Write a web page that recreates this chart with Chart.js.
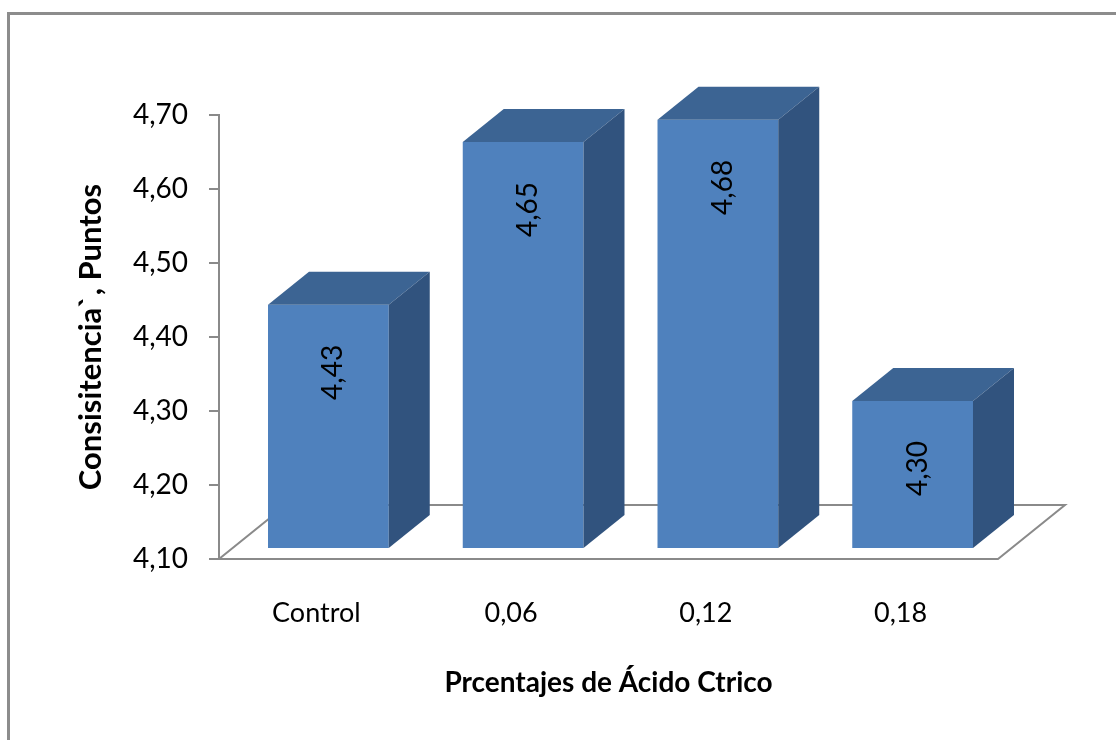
<!DOCTYPE html>
<html>
<head>
<meta charset="utf-8">
<script src="https://cdn.jsdelivr.net/npm/chart.js@4.4.1/dist/chart.umd.min.js"></script>
<style>
  html, body { margin: 0; padding: 0; background: #fff; }
  #wrap { width: 1116px; height: 740px; position: relative; }
</style>
</head>
<body>
<div id="wrap"><canvas id="chart"></canvas></div>
<script>
const categories = ['Control', '0,06', '0,12', '0,18'];
const consistencia = [4.43, 4.65, 4.68, 4.30];
const yMin = 4.1;
const yMax = 4.7;
const yStep = 0.1;
const yTitle = 'Consisitencia`, Puntos';
const xTitle = 'Prcentajes de Ácido Ctrico';

const FONT = 'Lato, "Open Sans", sans-serif';
const FRONT = '#4f81bd';
const TOP = '#3c6493';
const SIDE = '#31537e';
const AXIS = '#8a8a8a';
// 3D offsets (px): bar sits a bit inside the floor, box depth, floor depth
const SHIFT = { x: 12, y: -10 };
const DEPTH = { x: 41, y: -33 };
const FLOOR = { x: 67, y: -54 };

const comma = (v) => Number(v).toFixed(2).replace('.', ',');

function poly(ctx, pts, fill) {
  ctx.beginPath();
  ctx.moveTo(pts[0][0], pts[0][1]);
  for (let i = 1; i < pts.length; i++) ctx.lineTo(pts[i][0], pts[i][1]);
  ctx.closePath();
  ctx.fillStyle = fill;
  ctx.fill();
}

const frame = {
  id: 'frame',
  beforeDraw(chart) {
    const ctx = chart.ctx;
    ctx.save();
    ctx.strokeStyle = '#8c8c8c';
    ctx.lineWidth = 3;
    ctx.strokeRect(8.5, 13.5, 1300, 900);
    ctx.restore();
  }
};

const box3d = {
  id: 'box3d',
  beforeDatasetsDraw(chart) {
    const { ctx, chartArea: a } = chart;
    ctx.save();
    ctx.beginPath();
    ctx.moveTo(a.left, a.bottom);
    ctx.lineTo(a.right, a.bottom);
    ctx.lineTo(a.right + FLOOR.x, a.bottom + FLOOR.y);
    ctx.lineTo(a.left + FLOOR.x, a.bottom + FLOOR.y);
    ctx.closePath();
    ctx.fillStyle = '#fff';
    ctx.fill();
    ctx.strokeStyle = AXIS;
    ctx.lineWidth = 2;
    ctx.stroke();
    ctx.restore();
  },
  beforeDatasetDraw(chart) {
    chart.ctx.save();
    chart.ctx.translate(SHIFT.x, SHIFT.y);
  },
  afterDatasetDraw(chart, args) {
    const ctx = chart.ctx;
    const data = chart.data.datasets[args.index].data;
    args.meta.data.forEach((el, i) => {
      const { x, y, base, width } = el.getProps(['x', 'y', 'base', 'width'], true);
      const l = x - width / 2;
      const r = x + width / 2;
      poly(ctx, [[l, y], [r, y], [r + DEPTH.x, y + DEPTH.y], [l + DEPTH.x, y + DEPTH.y]], TOP);
      poly(ctx, [[r, y], [r + DEPTH.x, y + DEPTH.y], [r + DEPTH.x, base + DEPTH.y], [r, base]], SIDE);
      ctx.save();
      ctx.translate(x + 5, y + 40);
      ctx.rotate(-Math.PI / 2);
      ctx.font = '28px ' + FONT;
      ctx.fillStyle = '#000';
      ctx.textAlign = 'right';
      ctx.textBaseline = 'middle';
      ctx.fillText(comma(data[i]), 0, 0);
      ctx.restore();
    });
    ctx.restore();
  }
};

new Chart(document.getElementById('chart'), {
  type: 'bar',
  data: {
    labels: categories,
    datasets: [{
      data: consistencia,
      base: yMin,
      backgroundColor: FRONT,
      borderWidth: 0,
      categoryPercentage: 1,
      barPercentage: 0.62,
      clip: false
    }]
  },
  options: {
    responsive: true,
    maintainAspectRatio: false,
    animation: false,
    events: [],
    layout: { padding: { top: 115, right: 118, left: 0, bottom: 0 } },
    plugins: { legend: { display: false }, tooltip: { enabled: false } },
    scales: {
      x: {
        grid: { display: false, drawTicks: false },
        border: { display: false },
        ticks: { color: '#000', padding: 38, font: { family: FONT, size: 27 } },
        title: {
          display: true, text: xTitle, color: '#000',
          padding: { top: 0, bottom: 40 },
          font: { family: FONT, size: 28, weight: 'bold' }
        },
        afterFit: (s) => { s.height = 181; }
      },
      y: {
        min: yMin,
        max: yMax,
        grid: { drawOnChartArea: false, drawTicks: true, tickLength: 10, color: AXIS, lineWidth: 2 },
        border: { display: true, color: AXIS, width: 2 },
        ticks: {
          stepSize: yStep, color: '#000', padding: 21,
          font: { family: FONT, size: 28 },
          callback: (v) => comma(v)
        },
        title: {
          display: true, text: yTitle, color: '#000',
          padding: { top: 72, bottom: 0 },
          font: { family: FONT, size: 31, weight: 'bold' }
        },
        afterFit: (s) => { s.width = 219; }
      }
    }
  },
  plugins: [frame, box3d]
});
</script>
</body>
</html>
